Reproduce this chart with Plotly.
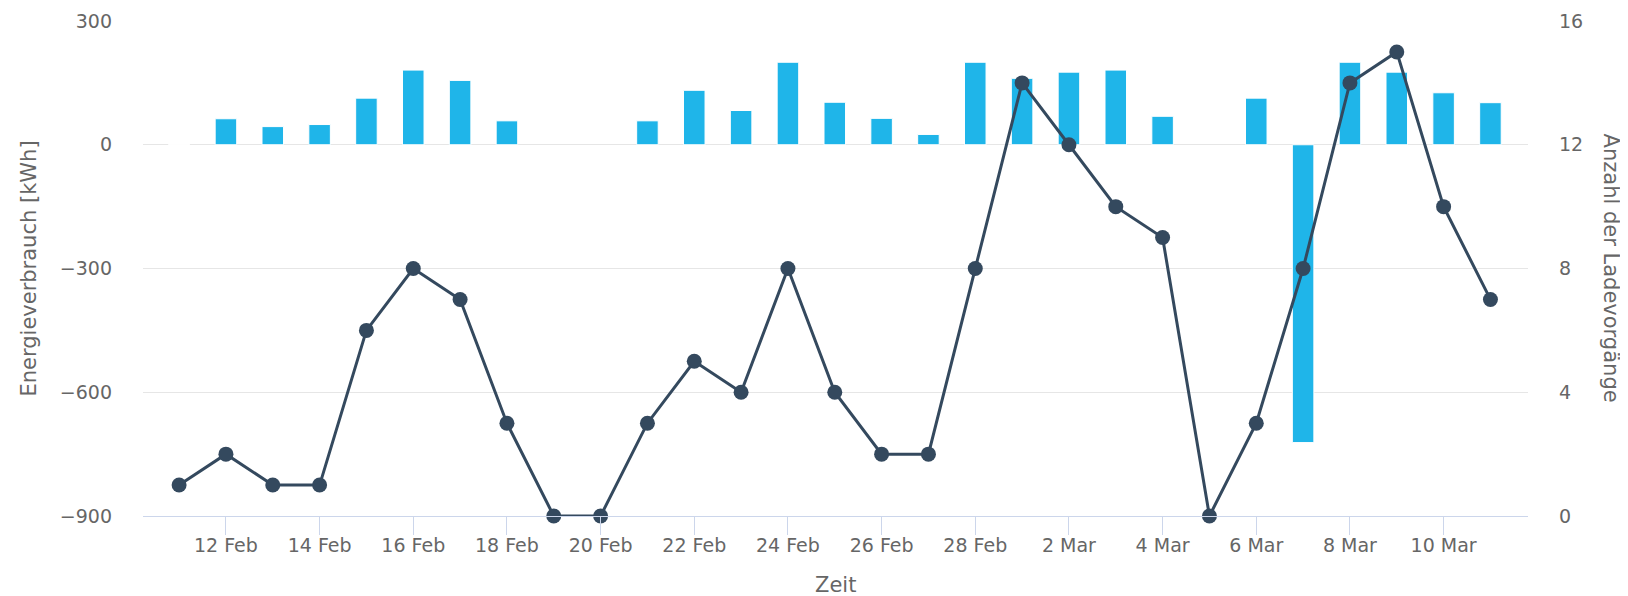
import plotly.graph_objects as go

# Tage 11 Feb - 11 Mar (kein Schaltjahr)
dates = ['2023-02-11', '2023-02-12', '2023-02-13', '2023-02-14', '2023-02-15',
         '2023-02-16', '2023-02-17', '2023-02-18', '2023-02-19', '2023-02-20',
         '2023-02-21', '2023-02-22', '2023-02-23', '2023-02-24', '2023-02-25',
         '2023-02-26', '2023-02-27', '2023-02-28', '2023-03-01', '2023-03-02',
         '2023-03-03', '2023-03-04', '2023-03-05', '2023-03-06', '2023-03-07',
         '2023-03-08', '2023-03-09', '2023-03-10', '2023-03-11']

# Energieverbrauch in kWh (None = kein Wert)
energy_kwh = [0, 63, 44, 49, 113, 181, 156, 58, None, None,
              58, 132, 83, 200, 103, 64, 25, 200, 161, 176,
              181, 69, None, 113, -722, 200, 176, 126, 102]

# Anzahl der Ladevorgaenge
charge_count = [1, 2, 1, 1, 6, 8, 7, 3, 0, 0,
                3, 5, 4, 8, 4, 2, 2, 8, 14, 12,
                10, 9, 0, 3, 8, 14, 15, 10, 7]

left_ticks = [300, 0, -300, -600, -900]
right_ticks = [16, 12, 8, 4, 0]

FONT = 'DejaVu Sans'
GREY = '#666666'
DAY_MS = 86400000


def createFigure():
    fig = go.Figure()

    fig.add_trace(go.Bar(x=dates, y=energy_kwh,
                         width=0.46 * DAY_MS,
                         marker=dict(color='#1fb5e9',
                                     line=dict(color='#ffffff', width=1)),
                         name='Energieverbrauch'))

    fig.add_trace(go.Scatter(x=dates, y=charge_count, yaxis='y2',
                             mode='lines+markers',
                             line=dict(color='#34495e', width=3),
                             marker=dict(color='#34495e', size=15),
                             cliponaxis=False,
                             name='Ladevorgänge'))

    # die Seite hat 8px Rand, daher 1620x588 statt 1628x596
    fig.update_layout(
        width=1620, height=588,
        margin=dict(l=135, r=100, t=13, b=80),
        plot_bgcolor='white', paper_bgcolor='white',
        showlegend=False,
        font=dict(family=FONT, size=19, color=GREY),
        xaxis=dict(type='date', automargin=False,
                   range=['2023-02-10 05:30', '2023-03-11 19:15'],
                   tick0='2023-02-12', dtick=2 * DAY_MS,
                   tickformat='%-d %b',
                   showgrid=False, zeroline=False,
                   showline=True, linecolor='#ccd6eb', linewidth=1,
                   ticks='outside', ticklen=18, tickcolor='#ccd6eb',
                   ticklabelstandoff=-6,
                   tickfont=dict(size=19, color=GREY)),
        yaxis=dict(range=[-900, 300], tickvals=left_ticks, automargin=False,
                   showgrid=True, gridcolor='#e6e6e6', gridwidth=1,
                   zeroline=False, ticks='', ticklabelstandoff=30,
                   tickfont=dict(size=19, color=GREY)),
        yaxis2=dict(range=[0, 16], tickvals=right_ticks, automargin=False,
                    overlaying='y', side='right',
                    showgrid=False, zeroline=False, ticks='',
                    ticklabelstandoff=30,
                    tickfont=dict(size=19, color=GREY)),
    )

    # Achsentitel als Annotationen (rechter Titel liest von oben nach unten)
    fig.add_annotation(text='Energieverbrauch [kWh]', xref='paper', yref='paper',
                       x=-0.083, y=0.5, textangle=-90, showarrow=False,
                       xanchor='center', yanchor='middle',
                       font=dict(size=21, color=GREY))
    fig.add_annotation(text='Anzahl der Ladevorgänge', xref='paper', yref='paper',
                       x=1.0606, y=0.5, textangle=90, showarrow=False,
                       xanchor='center', yanchor='middle',
                       font=dict(size=21, color=GREY))
    fig.add_annotation(text='Zeit', xref='paper', yref='paper',
                       x=0.5, y=-0.14, showarrow=False,
                       xanchor='center', yanchor='middle',
                       font=dict(size=21, color=GREY))
    return fig


def main():
    fig = createFigure()
    fig.write_html('out.html')


if __name__ == '__main__':
    main()
